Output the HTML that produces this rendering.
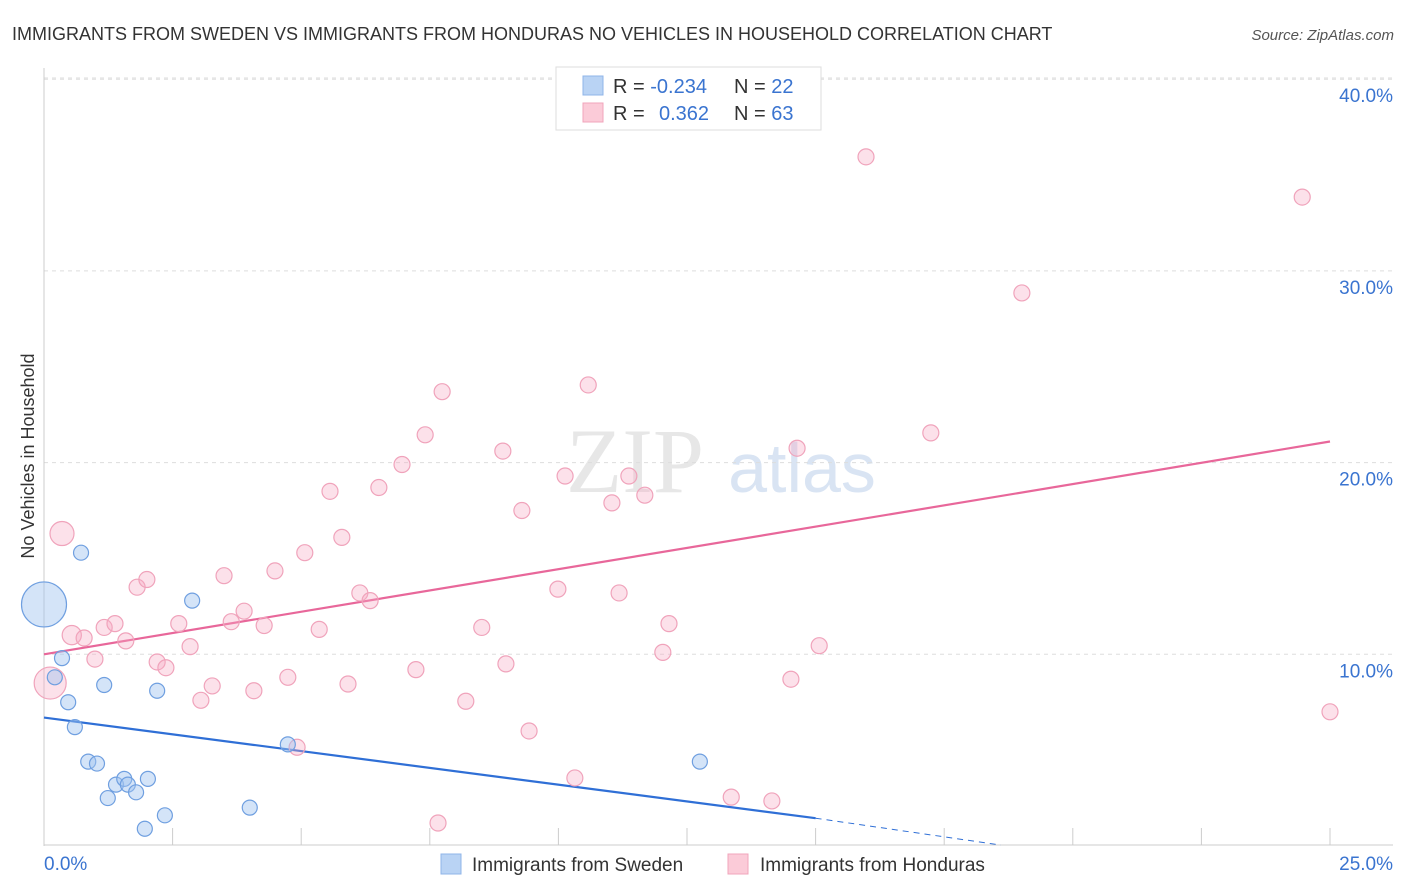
<!DOCTYPE html>
<html><head><meta charset="utf-8"><style>
body{margin:0;background:#fff;font-family:"Liberation Sans",sans-serif;}
svg{display:block}
</style></head><body>
<svg id="c" width="1406" height="892" xmlns="http://www.w3.org/2000/svg">
<text x="12" y="40" font-size="18" fill="#333">IMMIGRANTS FROM SWEDEN VS IMMIGRANTS FROM HONDURAS NO VEHICLES IN HOUSEHOLD CORRELATION CHART</text>
<text x="1394" y="40" font-size="15" fill="#555" font-style="italic" text-anchor="end">Source: ZipAtlas.com</text>
<g><text x="635" y="492" font-size="92" fill="#ddd" text-anchor="middle" font-family="Liberation Serif,serif" opacity="0.7">ZIP</text><text x="802" y="492" font-size="70" fill="#c9d9ef" text-anchor="middle" opacity="0.7">atlas</text></g>
<g id="grid"></g><g id="axes"></g><g id="lines"></g><g id="pts"></g>
<text x="34" y="456" font-size="18" fill="#333" text-anchor="middle" transform="rotate(-90 34 456)">No Vehicles in Household</text>
<g>
<rect x="556" y="67" width="265" height="63" fill="#fff" stroke="#ddd"/>
<rect x="583" y="76" width="20" height="19" fill="#b9d3f4" stroke="#8fb5e8"/>
<rect x="583" y="103" width="20" height="19" fill="#fbcbd8" stroke="#f0a5bb"/>
<text x="613" y="93" font-size="20" fill="#333">R = <tspan fill="#3a74d0">-0.234</tspan></text>
<text x="734" y="93" font-size="20" fill="#333">N = <tspan fill="#3a74d0">22</tspan></text>
<text x="613" y="120" font-size="20" fill="#333">R = <tspan fill="#3a74d0" x="659">0.362</tspan></text>
<text x="734" y="120" font-size="20" fill="#333">N = <tspan fill="#3a74d0">63</tspan></text>
</g>
<g>
<rect x="441" y="854" width="20" height="20" fill="#b9d3f4" stroke="#8fb5e8"/>
<text x="472" y="871" font-size="19" fill="#333">Immigrants from Sweden</text>
<rect x="728" y="854" width="20" height="20" fill="#fbcbd8" stroke="#f0a5bb"/>
<text x="760" y="871" font-size="19" fill="#333">Immigrants from Honduras</text>
</g>
</svg>
<script>
const xTicks=[0,2.5,5,7.5,10,12.5,15,17.5,20,22.5,25];
const yTicks=[10,20,30,40];
const yTickLabels=["10.0%","20.0%","30.0%","40.0%"];
const swedenX=[0,0.72,0.35,0.21,0.47,0.6,1.17,2.2,2.88,0.86,1.03,1.24,1.4,1.56,1.63,1.79,2.02,1.96,2.35,4.0,4.74,12.75];
const swedenY=[12.6,15.3,9.8,8.8,7.5,6.2,8.4,8.1,12.8,4.4,4.3,2.5,3.2,3.5,3.2,2.8,3.5,0.9,1.6,2.0,5.3,4.4];
const swedenSize=[3,1,1,1,1,1,1,1,1,1,1,1,1,1,1,1,1,1,1,1,1,1];
const hondurasX=[0.12,0.35,0.54,0.78,0.99,1.17,1.38,1.59,1.81,2.0,2.2,2.37,2.62,2.84,3.05,3.27,3.5,3.64,3.89,4.08,4.28,4.49,4.74,4.92,5.07,5.35,5.56,5.79,5.91,6.14,6.34,6.51,6.96,7.23,7.41,7.66,7.74,8.2,8.51,8.92,8.98,9.29,9.43,9.99,10.13,10.32,10.58,11.04,11.18,11.37,11.68,12.03,12.15,13.36,14.15,14.52,14.64,15.07,15.98,17.24,19.01,24.46,25.0];
const hondurasY=[8.5,16.3,11.0,10.85,9.75,11.4,11.6,10.7,13.5,13.9,9.6,9.3,11.6,10.4,7.6,8.35,14.1,11.7,12.25,8.1,11.5,14.35,8.8,5.15,15.3,11.3,18.5,16.1,8.45,13.2,12.8,18.7,19.9,9.2,21.45,1.2,23.7,7.55,11.4,20.6,9.5,17.5,6.0,13.4,19.3,3.55,24.05,17.9,13.2,19.3,18.3,10.1,11.6,2.55,2.35,8.7,20.75,10.45,35.95,21.55,28.85,33.85,7.0];
const hondurasSize=[2,1.5,1.2,1,1,1,1,1,1,1,1,1,1,1,1,1,1,1,1,1,1,1,1,1,1,1,1,1,1,1,1,1,1,1,1,1,1,1,1,1,1,1,1,1,1,1,1,1,1,1,1,1,1,1,1,1,1,1,1,1,1,1,1];
const swedenTrend=[6.7,1.45,15,0.05,18.6];
const hondurasTrend=[10.0,21.1];
const X=v=>44+v*51.44, Y=v=>846-v*19.17;
const NS="http://www.w3.org/2000/svg";
function mk(p,t,a){const e=document.createElementNS(NS,t);for(const k in a)e.setAttribute(k,a[k]);document.getElementById(p).appendChild(e);return e;}
yTicks.forEach((t,i)=>{
 const g=mk('grid','line',{x1:44,x2:1393,y1:Y(t),y2:Y(t),stroke:'#ddd','stroke-dasharray':'4,4'});
 
 
 const l=mk('grid','text',{x:1393,y:Y(t)+23,'font-size':19,fill:'#3a74d0','text-anchor':'end'});l.textContent=yTickLabels[i];
 
 
});
const tg=mk('grid','line',{x1:44,x2:1393,y1:78,y2:78,stroke:'#ddd','stroke-dasharray':'4,4'});
mk('axes','line',{x1:44,x2:44,y1:68,y2:846,stroke:'#ccc'});
const xa=mk('axes','line',{x1:44,x2:1393,y1:845,y2:845,stroke:'#ccc'});


xTicks.forEach(t=>{const e=mk('axes','line',{x1:X(t),x2:X(t),y1:828,y2:845,stroke:'#ccc'});
 
 });
let a=mk('axes','text',{x:44,y:870,'font-size':19,fill:'#3a74d0'});a.textContent='0.0%';


a=mk('axes','text',{x:1393,y:870,'font-size':19,fill:'#3a74d0','text-anchor':'end'});a.textContent='25.0%';


let ln=mk('lines','line',{x1:X(0),y1:Y(hondurasTrend[0]),x2:X(25),y2:Y(hondurasTrend[1]),stroke:'#e8679a','stroke-width':2.2});


ln=mk('lines','line',{x1:X(0),y1:Y(swedenTrend[0]),x2:X(swedenTrend[2]),y2:Y(swedenTrend[1]),stroke:'#2f6fd6','stroke-width':2.2});


ln=mk('lines','line',{x1:X(swedenTrend[2]),y1:Y(swedenTrend[1]),x2:X(swedenTrend[4]),y2:Y(swedenTrend[3]),stroke:'#2f6fd6','stroke-width':1,'stroke-dasharray':'6,5'});


hondurasX.forEach((v,i)=>{const c=mk('pts','circle',{cx:X(v),cy:Y(hondurasY[i]),r:8*hondurasSize[i],fill:'rgba(247,170,195,0.35)',stroke:'#f0a3bb','stroke-width':1.2});
 
 });
swedenX.forEach((v,i)=>{const c=mk('pts','circle',{cx:X(v),cy:Y(swedenY[i]),r:7.5*swedenSize[i],fill:'rgba(160,195,240,0.45)',stroke:'#6f9fe0','stroke-width':1.2});
 
 });
</script>
</body></html>
